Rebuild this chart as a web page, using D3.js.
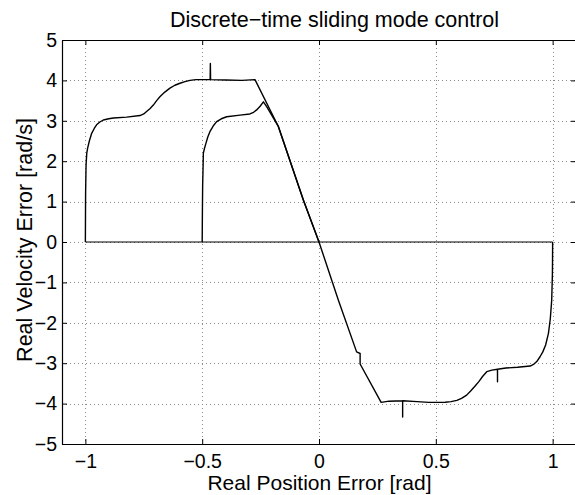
<!DOCTYPE html>
<html>
<head>
<meta charset="utf-8">
<script src="https://cdn.jsdelivr.net/npm/d3@7"></script>
<style>
  html, body { margin: 0; padding: 0; background: #fff; }
  svg { display: block; }
  text { font-family: "Liberation Sans", Arial, Helvetica, sans-serif; fill: #000; }
</style>
</head>
<body>
<svg id="chart" width="575" height="495"></svg>
<script>
// ---- Data ----
const xTicks = [-1, -0.5, 0, 0.5, 1];
const xTickLabels = ["\u22121", "\u22120.5", "0", "0.5", "1"];
const yTicks = [-5, -4, -3, -2, -1, 0, 1, 2, 3, 4, 5];
const yTickLabels = ["\u22125", "\u22124", "\u22123", "\u22122", "\u22121", "0", "1", "2", "3", "4", "5"];

// trajectory starting at x = -1
const trajAx = [-1, -0.999, -0.997, -0.994, -0.990, -0.983, -0.973, -0.962, -0.952, -0.938, -0.923, -0.900, -0.880, -0.823, -0.766, -0.750, -0.738, -0.724, -0.709, -0.695, -0.680, -0.660, -0.638, -0.617, -0.595, -0.574, -0.552, -0.527, -0.502, -0.466, -0.465, -0.464, -0.400, -0.330, -0.274, -0.174, -0.067, 0];
const trajAy = [0, 1.20, 1.90, 2.20, 2.33, 2.50, 2.69, 2.81, 2.90, 2.97, 3.02, 3.05, 3.07, 3.09, 3.13, 3.17, 3.23, 3.30, 3.39, 3.50, 3.60, 3.71, 3.81, 3.88, 3.93, 3.97, 4.00, 4.02, 4.02, 4.02, 4.42, 4.02, 4.01, 4.00, 4.02, 2.86, 1.04, 0];
// trajectory starting at x = -0.5
const trajBx = [-0.5, -0.499, -0.498, -0.496, -0.495, -0.490, -0.484, -0.476, -0.467, -0.453, -0.438, -0.418, -0.395, -0.338, -0.296, -0.280, -0.267, -0.252, -0.238, -0.224, -0.174, -0.067, 0];
const trajBy = [0, 0.80, 1.40, 1.90, 2.20, 2.32, 2.44, 2.60, 2.73, 2.87, 2.98, 3.05, 3.10, 3.14, 3.17, 3.21, 3.27, 3.36, 3.47, 3.35, 2.86, 1.04, 0];
// trajectory starting at x = 1
const trajCx = [1, 0.9995, 0.999, 0.996, 0.990, 0.982, 0.970, 0.958, 0.946, 0.932, 0.918, 0.904, 0.850, 0.800, 0.764, 0.764, 0.764, 0.740, 0.718, 0.700, 0.685, 0.670, 0.650, 0.632, 0.610, 0.590, 0.565, 0.540, 0.470, 0.420, 0.358, 0.358, 0.358, 0.300, 0.266, 0.176, 0.176, 0.161, 0.083, 0];
const trajCy = [0, -0.50, -0.80, -1.44, -1.90, -2.26, -2.55, -2.72, -2.84, -2.96, -3.03, -3.07, -3.10, -3.12, -3.15, -3.46, -3.15, -3.17, -3.21, -3.33, -3.45, -3.55, -3.68, -3.79, -3.87, -3.92, -3.95, -3.965, -3.97, -3.95, -3.93, -4.33, -3.93, -3.94, -3.97, -3.02, -2.76, -2.72, -1.44, 0];
// straight line along zero velocity
const zeroLineX = [-1, 1];
const zeroLineY = [0, 0];

const titleText = "Discrete\u2212time sliding mode control";
const xLabelText = "Real Position Error [rad]";
const yLabelText = "Real Velocity Error [rad/s]";

// ---- Layout ----
const svg = d3.select("#chart");
const L = 62, R = 576, T = 40, B = 444;
const x = d3.scaleLinear().domain([-1.1, 1.1]).range([L, R]);
const y = d3.scaleLinear().domain([-5, 5]).range([B, T]);

svg.append("defs").append("clipPath").attr("id", "plotclip")
  .append("rect").attr("x", L).attr("y", T).attr("width", R - L).attr("height", B - T);

// grid
const grid = svg.append("g").attr("stroke", "#8c8c8c").attr("stroke-width", 1)
  .attr("stroke-dasharray", "1,3").attr("fill", "none");
grid.selectAll(".gx").data(xTicks).enter().append("line")
  .attr("x1", d => Math.round(x(d)) + 0.5).attr("x2", d => Math.round(x(d)) + 0.5)
  .attr("y1", T).attr("y2", B);
grid.selectAll(".gy").data(yTicks.filter(v => v > -5 && v < 5)).enter().append("line")
  .attr("y1", d => Math.round(y(d)) + 0.5).attr("y2", d => Math.round(y(d)) + 0.5)
  .attr("x1", L).attr("x2", R);

// axes
const fontTick = 19.5;
const axB = svg.append("g").attr("transform", `translate(0,${B})`)
  .call(d3.axisBottom(x).tickValues(xTicks).tickFormat((d, i) => xTickLabels[i])
    .tickSizeInner(-5).tickSizeOuter(0).tickPadding(10));
const axT = svg.append("g").attr("transform", `translate(0,${T})`)
  .call(d3.axisTop(x).tickValues(xTicks).tickFormat("").tickSizeInner(-5).tickSizeOuter(0));
const axLf = svg.append("g").attr("transform", `translate(${L},0)`)
  .call(d3.axisLeft(y).tickValues(yTicks).tickFormat((d, i) => yTickLabels[i])
    .tickSizeInner(-5).tickSizeOuter(0).tickPadding(5));
const axRt = svg.append("g").attr("transform", `translate(${R},0)`)
  .call(d3.axisRight(y).tickValues(yTicks).tickFormat("").tickSizeInner(-5).tickSizeOuter(0));
[axB, axT, axLf, axRt].forEach(g => {
  g.selectAll("path.domain").attr("stroke", "#000").attr("stroke-width", 1.2);
  g.selectAll(".tick line").attr("stroke", "#000").attr("stroke-width", 1);
  g.selectAll("text").attr("font-size", fontTick)
    .attr("font-family", '"Liberation Sans", Arial, sans-serif').attr("fill", "#000");
});

// curves
const line = d3.line().x(d => x(d[0])).y(d => y(d[1]));
const series = [
  d3.zip(zeroLineX, zeroLineY),
  d3.zip(trajAx, trajAy),
  d3.zip(trajBx, trajBy),
  d3.zip(trajCx, trajCy)
];
svg.append("g").attr("clip-path", "url(#plotclip)")
  .selectAll("path").data(series).enter().append("path")
  .attr("d", line).attr("fill", "none").attr("stroke", "#000")
  .attr("stroke-width", (d, i) => i === 0 ? 1.2 : 1.4)
  .attr("stroke-linejoin", "round");

// texts
svg.append("text").attr("x", 334.5).attr("y", 27).attr("text-anchor", "middle")
  .attr("font-size", 21.5).text(titleText);
svg.append("text").attr("x", 319.5).attr("y", 490).attr("text-anchor", "middle")
  .attr("font-size", 21).text(xLabelText);
svg.append("text").attr("transform", "translate(32,240) rotate(-90)")
  .attr("text-anchor", "middle").attr("font-size", 21.5).text(yLabelText);
</script>
</body>
</html>
